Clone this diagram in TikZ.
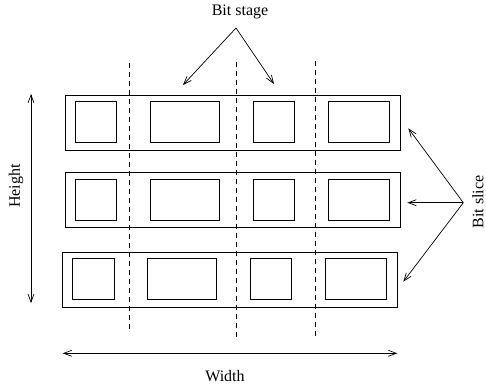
\documentclass[tikz,border=0pt]{standalone}
\usepackage{fontspec}
\setmainfont{Liberation Serif}
\usetikzlibrary{arrows.meta}
\begin{document}
\begin{tikzpicture}[x=1pt,y=-1pt,
  slicebox/.style={draw, line width=0.9pt, inner sep=0pt, minimum width=335pt, minimum height=55pt},
  cellbox/.style={draw, line width=0.8pt, inner sep=0pt, minimum height=41pt},
  narrow/.style={cellbox, minimum width=41.4pt},
  wide/.style={cellbox, minimum width=68.7pt},
  mid/.style={cellbox, minimum width=61pt},
  stageline/.style={line width=0.7pt, dash pattern=on 5pt off 4pt},
  pointer/.style={line width=0.7pt, -{Straight Barb[length=8pt,width=6pt]}},
  dimline/.style={line width=0.7pt, {Straight Barb[length=8pt,width=6pt]}-{Straight Barb[length=8pt,width=6pt]}},
  lbl/.style={font=\fontsize{16}{19}\selectfont, inner sep=0pt}
]
\useasboundingbox (0,0) rectangle (486,390);

% three bit slices
\node[slicebox] (s1) at (232.5,122.5) {};
\node[slicebox] (s2) at (232.5,200) {};
\node[slicebox] (s3) at (230,279.5) {};

% cells of each slice
\node[narrow] (a1) at (96,121.8) {};
\node[wide]   (b1) at (184.7,121.8) {};
\node[narrow] (c1) at (273.7,121.8) {};
\node[mid]    (d1) at (358.8,121.8) {};

\node[narrow] (a2) at (96,199.7) {};
\node[wide]   (b2) at (184.7,199.7) {};
\node[narrow] (c2) at (273.7,199.7) {};
\node[mid]    (d2) at (358.8,199.7) {};

\node[narrow] (a3) at (93.3,279) {};
\node[wide]   (b3) at (182,279) {};
\node[narrow] (c3) at (271,279) {};
\node[mid]    (d3) at (356.2,279) {};

% stage boundaries
\coordinate (t1) at (129.3,63.3);  \coordinate (u1) at (129.3,331);
\coordinate (t2) at (236,61.7);    \coordinate (u2) at (236,337.7);
\coordinate (t3) at (315.3,60.7);  \coordinate (u3) at (315.3,336.7);
\draw[stageline] (t1) -- (u1);
\draw[stageline] (t2) -- (u2);
\draw[stageline] (t3) -- (u3);

% labels
\node[lbl] (stage) at (240,12) {Bit stage};
\node[lbl, rotate=90] (height) at (16,186) {Height};
\node[lbl, rotate=90] (slice) at (478,202) {Bit slice};
\node[lbl] (width) at (225,376) {Width};

% pointers from the labels
\coordinate (sa) at (236,28);
\coordinate (sl) at (183,85);
\coordinate (sr) at (274,84);
\draw[pointer] (sa) -- (sl);
\draw[pointer] (sa) -- (sr);

\coordinate (ba) at (463.3,202.7);
\coordinate (bt) at (408.3,128.3);
\coordinate (bm) at (407.3,202.7);
\coordinate (bb) at (403.3,281.7);
\draw[pointer] (ba) -- (bt);
\draw[pointer] (ba) -- (bm);
\draw[pointer] (ba) -- (bb);

% dimensions
\coordinate (ht) at (31,94);
\coordinate (hb) at (31,303);
\draw[dimline] (ht) -- (hb);
\coordinate (wl) at (62.7,353.3);
\coordinate (wr) at (397.3,353.3);
\draw[dimline] (wl) -- (wr);
\end{tikzpicture}
\end{document}
